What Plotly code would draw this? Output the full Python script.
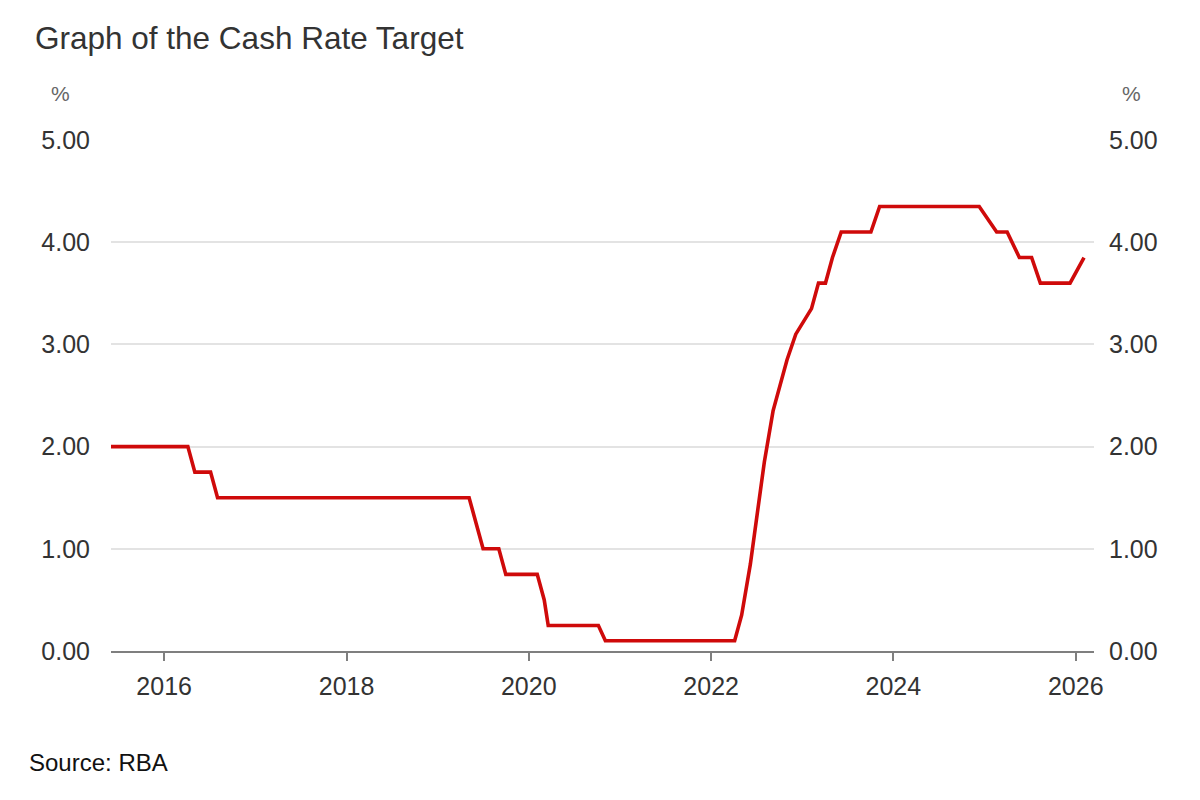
import plotly.graph_objects as go

# RBA board meeting dates and cash rate target decided (%)
dates = [
    "2015-06-02", "2015-07-07", "2015-08-04", "2015-09-01", "2015-10-06", "2015-11-03", "2015-12-01",
    "2016-02-02", "2016-03-01", "2016-04-05", "2016-05-03", "2016-06-07", "2016-07-05", "2016-08-02",
    "2016-09-06", "2016-10-04", "2016-11-01", "2016-12-06",
    "2017-02-07", "2017-03-07", "2017-04-04", "2017-05-02", "2017-06-06", "2017-07-04", "2017-08-01",
    "2017-09-05", "2017-10-03", "2017-11-07", "2017-12-05",
    "2018-02-06", "2018-03-06", "2018-04-03", "2018-05-01", "2018-06-05", "2018-07-03", "2018-08-07",
    "2018-09-04", "2018-10-02", "2018-11-06", "2018-12-04",
    "2019-02-05", "2019-03-05", "2019-04-02", "2019-05-07", "2019-06-04", "2019-07-02", "2019-08-06",
    "2019-09-03", "2019-10-01", "2019-11-05", "2019-12-03",
    "2020-02-04", "2020-03-03", "2020-03-19", "2020-04-07", "2020-05-05", "2020-06-02", "2020-07-07",
    "2020-08-04", "2020-09-01", "2020-10-06", "2020-11-03", "2020-12-01",
    "2021-02-02", "2021-03-02", "2021-04-06", "2021-05-04", "2021-06-01", "2021-07-06", "2021-08-03",
    "2021-09-07", "2021-10-05", "2021-11-02", "2021-12-07",
    "2022-02-01", "2022-03-01", "2022-04-05", "2022-05-03", "2022-06-07", "2022-07-05", "2022-08-02",
    "2022-09-06", "2022-10-04", "2022-11-01", "2022-12-06",
    "2023-02-07", "2023-03-07", "2023-04-04", "2023-05-02", "2023-06-06", "2023-07-04", "2023-08-01",
    "2023-09-05", "2023-10-03", "2023-11-07", "2023-12-05",
    "2024-02-06", "2024-03-19", "2024-05-07", "2024-06-18", "2024-08-06", "2024-09-24", "2024-11-05",
    "2024-12-10",
    "2025-02-18", "2025-04-01", "2025-05-20", "2025-07-08", "2025-08-12", "2025-09-30", "2025-11-04",
    "2025-12-09",
    "2026-02-03",
]

rates = [
    2.00, 2.00, 2.00, 2.00, 2.00, 2.00, 2.00,
    2.00, 2.00, 2.00, 1.75, 1.75, 1.75, 1.50,
    1.50, 1.50, 1.50, 1.50,
    1.50, 1.50, 1.50, 1.50, 1.50, 1.50, 1.50,
    1.50, 1.50, 1.50, 1.50,
    1.50, 1.50, 1.50, 1.50, 1.50, 1.50, 1.50,
    1.50, 1.50, 1.50, 1.50,
    1.50, 1.50, 1.50, 1.50, 1.25, 1.00, 1.00,
    1.00, 0.75, 0.75, 0.75,
    0.75, 0.50, 0.25, 0.25, 0.25, 0.25, 0.25,
    0.25, 0.25, 0.25, 0.10, 0.10,
    0.10, 0.10, 0.10, 0.10, 0.10, 0.10, 0.10,
    0.10, 0.10, 0.10, 0.10,
    0.10, 0.10, 0.10, 0.35, 0.85, 1.35, 1.85,
    2.35, 2.60, 2.85, 3.10,
    3.35, 3.60, 3.60, 3.85, 4.10, 4.10, 4.10,
    4.10, 4.10, 4.35, 4.35,
    4.35, 4.35, 4.35, 4.35, 4.35, 4.35, 4.35,
    4.35,
    4.10, 4.10, 3.85, 3.85, 3.60, 3.60, 3.60,
    3.60,
    3.85,
]

y_ticks = [0, 1, 2, 3, 4, 5]
y_tick_labels = ["0.00", "1.00", "2.00", "3.00", "4.00", "5.00"]
x_ticks = ["2016-01-01", "2018-01-01", "2020-01-01", "2022-01-01", "2024-01-01", "2026-01-01"]
x_tick_labels = ["2016", "2018", "2020", "2022", "2024", "2026"]

FONT = "Arial, 'Liberation Sans', sans-serif"
RED = "#cf0a0a"

fig = go.Figure()
fig.add_trace(go.Scatter(
    x=dates, y=rates, mode="lines",
    line=dict(color=RED, width=3.6),
    showlegend=False, hoverinfo="x+y",
))
fig.add_trace(go.Scatter(
    x=dates, y=rates, mode="lines", yaxis="y2",
    line=dict(color="rgba(0,0,0,0)", width=0),
    showlegend=False, hoverinfo="skip",
))

fig.update_layout(
    width=1200, height=800,
    margin=dict(l=103, r=114, t=132, b=157),
    paper_bgcolor="white", plot_bgcolor="white",
    font=dict(family=FONT, color="#333333"),
    title=dict(
        text="Graph of the Cash Rate Target",
        font=dict(size=31.5, color="#333333", family=FONT),
        xref="container", x=27 / 1200, xanchor="left",
        yref="container", y=1 - 30 / 800, yanchor="middle",
    ),
    xaxis=dict(
        type="date",
        range=["2015-06-02", "2026-03-15"],
        tickvals=x_ticks, ticktext=x_tick_labels,
        showgrid=False, zeroline=False,
        showline=True, linecolor="#7f7f7f", linewidth=2,
        ticks="outside", ticklen=8, tickwidth=1.5, tickcolor="#7f7f7f",
        tickfont=dict(size=25, color="#333333", family=FONT),
        ticklabelstandoff=4,
    ),
    yaxis=dict(
        range=[0, 5], tickvals=y_ticks, ticktext=y_tick_labels,
        showgrid=True, gridcolor="#e3e3e3", gridwidth=1.5,
        zeroline=False, showline=False, ticks="",
        tickfont=dict(size=25, color="#333333", family=FONT),
        ticklabelstandoff=20,
    ),
    yaxis2=dict(
        range=[0, 5], tickvals=y_ticks, ticktext=y_tick_labels,
        overlaying="y", side="right",
        showgrid=False, zeroline=False, showline=False, ticks="",
        tickfont=dict(size=25, color="#333333", family=FONT),
        ticklabelstandoff=14,
    ),
    annotations=[
        dict(text="%", xref="paper", yref="paper", x=(60 - 111) / 983, y=(651 - 94) / 511,
             xanchor="center", yanchor="middle", showarrow=False,
             font=dict(size=21, color="#666666", family=FONT)),
        dict(text="%", xref="paper", yref="paper", x=(1131 - 111) / 983, y=(651 - 94) / 511,
             xanchor="center", yanchor="middle", showarrow=False,
             font=dict(size=21, color="#666666", family=FONT)),
        dict(text="Source: RBA", xref="paper", yref="paper", x=(27 - 111) / 983, y=(651 - 762) / 511,
             xanchor="left", yanchor="middle", showarrow=False,
             font=dict(size=24, color="#111111", family=FONT)),
    ],
)

fig.write_html("out.html")
